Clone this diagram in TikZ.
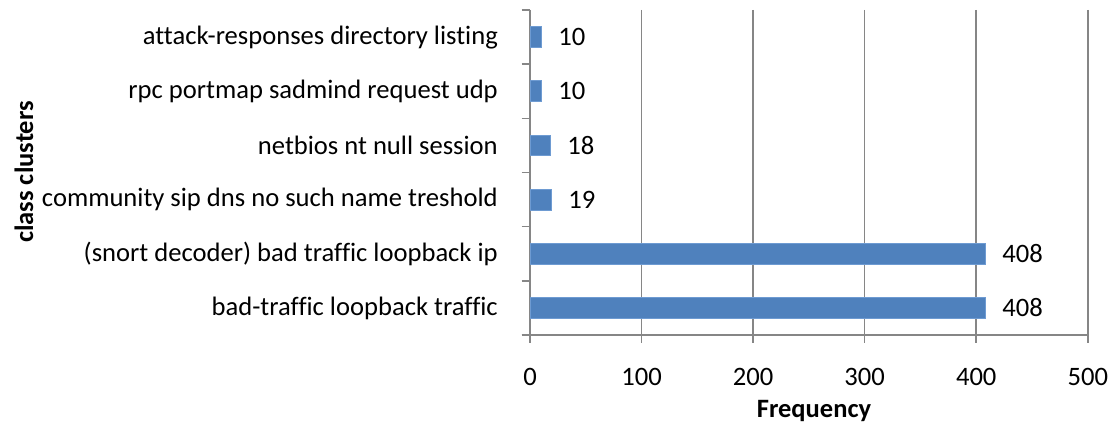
\documentclass[tikz,border=0pt]{standalone}
\usepackage{fontspec}
\setmainfont{Carlito}[Ligatures=NoCommon]
\tikzset{
  gridline/.style={draw={rgb,255:red,134;green,134;blue,134}, line width=1.5pt},
  barbox/.style={fill={rgb,255:red,79;green,129;blue,189}, draw={rgb,255:red,110;green,155;blue,210}, line width=0.8pt},
  catlabel/.style={anchor=east, inner sep=0pt, font=\fontsize{26.6}{30}\selectfont},
  vallabel/.style={anchor=west, inner sep=0pt, font=\fontsize{26.6}{30}\selectfont},
  ticklabel/.style={anchor=center, inner sep=0pt, font=\fontsize{26.6}{30}\selectfont},
  axtitle/.style={inner sep=0pt, font=\fontsize{26.5}{30}\selectfont\bfseries}
}
\begin{document}
\begin{tikzpicture}[x=1pt,y=-1pt]
\useasboundingbox (0,0) rectangle (1112,427);
% vertical gridlines and x ticks
\foreach \v/\lab in {0/0,100/100,200/200,300/300,400/400,500/500}{
  \coordinate (gt\v) at ({530+\v*1.1156},10);
  \coordinate (gb\v) at ({530+\v*1.1156},343);
  \draw[gridline] (gt\v) -- (gb\v);
  \node[ticklabel] (xl\v) at ({530+\v*1.1156},377) {\lab};
}
% category ticks
\foreach \i in {0,...,6}{
  \coordinate (ctl\i) at (521.5,{10+\i*54.167});
  \coordinate (ctr\i) at (530,{10+\i*54.167});
  \draw[gridline] (ctl\i) -- (ctr\i);
}
% horizontal axis
\coordinate (axl) at (521.5,335);
\coordinate (axr) at (1087.8,335);
\draw[gridline] (axl) -- (axr);
% bars
\foreach \i/\val/\lab in {1/10/attack-responses directory listing,
                          2/10/rpc portmap sadmind request udp,
                          3/18/netbios nt null session,
                          4/19/community sip dns no such name treshold,
                          5/408/(snort decoder) bad traffic loopback ip,
                          6/408/bad-traffic loopback traffic}{
  \pgfmathsetmacro{\cy}{10+(\i-0.5)*54.167}
  \path[barbox] (530,\cy-10.4) rectangle ({530+\val*1.1156},\cy+10.4);
  \node[vallabel] (v\i) at ({530+\val*1.1156+17},\cy) {\val};
  \node[catlabel] (c\i) at (498,\cy) {\lab};
}
% axis titles
\node[axtitle] (xt) at (814,411) {Frequency};
\node[axtitle, rotate=90] (yt) at (24,172) {class clusters};
\end{tikzpicture}
\end{document}
